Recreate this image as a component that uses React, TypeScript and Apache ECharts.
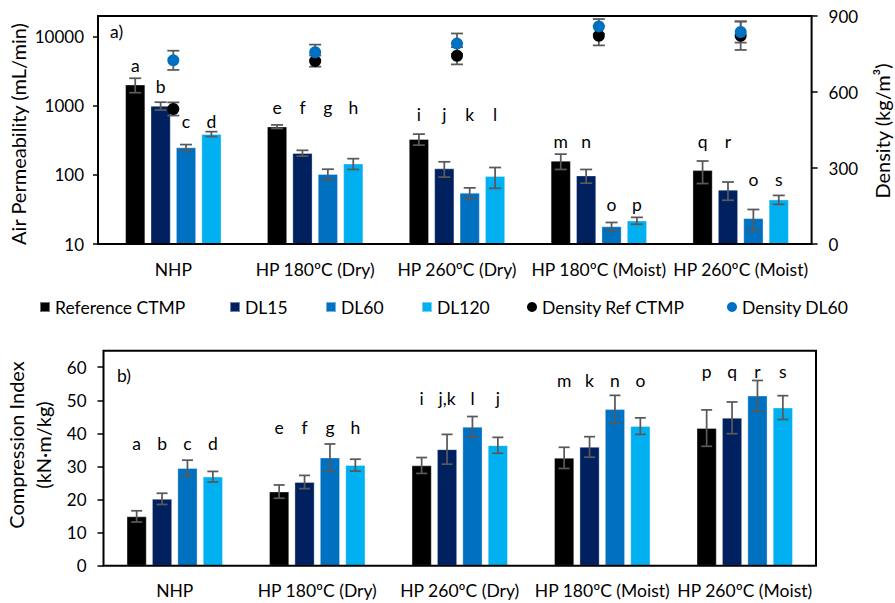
import React, { useEffect, useRef } from "react";
import * as echarts from "echarts";

// ---------- data ----------
const categories = ["NHP", "HP 180ºC (Dry)", "HP 260ºC (Dry)", "HP 180ºC (Moist)", "HP 260ºC (Moist)"];
const barNames = ["Reference CTMP", "DL15", "DL60", "DL120"];
const densityNames = ["Density Ref CTMP", "Density DL60"];

// panel a: air permeability (mL/min), mean and standard deviation
const permRef = [2030, 500, 330, 160, 117];
const permRefErr = [480, 30, 60, 40, 42];
const permDL15 = [1000, 207, 124, 98, 61];
const permDL15Err = [130, 20, 31, 22, 18];
const permDL60 = [250, 103, 55, 18, 23.6];
const permDL60Err = [25, 18, 10, 2.5, 8];
const permDL120 = [391, 146, 96, 21.8, 44];
const permDL120Err = [32, 26, 32, 2.5, 6.5];

// panel a: density (kg/m3)
const densRef = [533, 722, 743, 822, 822];
const densRefErr = [26, 22, 34, 38, 56];
const densDL60 = [725, 757, 791, 859, 837];
const densDL60Err = [38, 30, 40, 29, 42];

// panel a: significance letters and the level (axis value) they sit at
const lettersARef = ["a", "e", "i", "m", "q"];
const lettersADL15 = ["b", "f", "j", "n", "r"];
const lettersADL60 = ["c", "g", "k", "o", "o"];
const lettersADL120 = ["d", "h", "l", "p", "s"];
const letterLevelARef = [3870, 933, 745, 305, 305];
const letterLevelADL15 = [1920, 933, 745, 305, 305];
const letterLevelADL60 = [596, 933, 745, 36.8, 85];
const letterLevelADL120 = [596, 933, 745, 36.8, 85];

// panel b: compression index (kN·m/kg)
const ciRef = [14.9, 22.4, 30.3, 32.6, 41.6];
const ciRefErr = [1.7, 2.0, 2.4, 3.2, 5.5];
const ciDL15 = [20.2, 25.3, 35.2, 35.9, 44.7];
const ciDL15Err = [1.7, 2.0, 4.5, 3.1, 4.8];
const ciDL60 = [29.5, 32.7, 42.0, 47.3, 51.4];
const ciDL60Err = [2.4, 4.1, 3.1, 4.2, 4.6];
const ciDL120 = [26.9, 30.4, 36.4, 42.2, 47.8];
const ciDL120Err = [1.6, 1.8, 2.4, 2.5, 3.6];

const lettersBRef = ["a", "e", "i", "m", "p"];
const lettersBDL15 = ["b", "f", "j,k", "k", "q"];
const lettersBDL60 = ["c", "g", "l", "n", "r"];
const lettersBDL120 = ["d", "h", "j", "o", "s"];
const letterLevelB = [36.8, 41.9, 50.5, 56.0, 58.6];

const permTicks = [10, 100, 1000, 10000];

// ---------- styling ----------
const FONT = "Lato";
const FS = 17;
const FS_TXT = 17.5;
const FS_TITLE = 20;
const BAR_W = 20;
const BAR_GAP = 0.27;
const STEP = BAR_W * (1 + BAR_GAP);
const COLORS = ["#000000", "#002060", "#0070C0", "#00B0F0"];
const ERR_COLOR = "#595959";

function errSeries(xi: number, yi: number, vals: number[], errs: number[], slot: number, whisker: number, z: number) {
  return {
    type: "custom",
    xAxisIndex: xi,
    yAxisIndex: yi,
    silent: true,
    z,
    data: vals.map((v, i) => [i, v - errs[i], v + errs[i]]),
    renderItem: (params: any, api: any) => {
      const i = api.value(0);
      const lo = api.coord([i, api.value(1)]);
      const hi = api.coord([i, api.value(2)]);
      const x = lo[0] + slot * STEP;
      const h = whisker / 2;
      const st = { stroke: ERR_COLOR, lineWidth: 1.75 };
      return {
        type: "group",
        children: [
          { type: "line", shape: { x1: x, y1: hi[1], x2: x, y2: lo[1] }, style: st },
          { type: "line", shape: { x1: x - h, y1: hi[1], x2: x + h, y2: hi[1] }, style: st },
          { type: "line", shape: { x1: x - h, y1: lo[1], x2: x + h, y2: lo[1] }, style: st },
        ],
      };
    },
  };
}

function letterSeries(xi: number, yi: number, letters: string[], levels: number[], slot: number) {
  return {
    type: "custom",
    xAxisIndex: xi,
    yAxisIndex: yi,
    silent: true,
    z: 6,
    data: levels.map((lv, i) => [i, lv]),
    renderItem: (params: any, api: any) => {
      const p = api.coord([api.value(0), api.value(1)]);
      return {
        type: "text",
        x: p[0] + slot * STEP,
        y: p[1],
        style: {
          text: letters[params.dataIndex],
          textAlign: "center",
          textVerticalAlign: "middle",
          fill: "#000",
          font: `${FS_TXT}px ${FONT}`,
        },
      };
    },
  };
}

function barSeries(name: string, xi: number, yi: number, data: number[], color: string) {
  return {
    type: "bar",
    name,
    xAxisIndex: xi,
    yAxisIndex: yi,
    data,
    barWidth: BAR_W,
    barGap: `${BAR_GAP * 100}%`,
    clip: true,
    z: 2,
    itemStyle: { color, borderColor: "rgba(255,255,255,0.45)", borderWidth: 0.75 },
  };
}

const GA = { left: 102.4, top: 16, width: 709.2, height: 228 };
const GB = { left: 103.5, top: 350.7, width: 712.5, height: 215 };

const tickStyle = { color: "#000", width: 1.5 };
const labelStyle = { fontSize: FS, fontFamily: FONT, color: "#000" };

export default function App() {
  const ref = useRef<HTMLDivElement>(null);
  useEffect(() => {
    document.body.style.margin = "0";
    if (!ref.current) return;
    const chart = echarts.init(ref.current, undefined, { renderer: "svg" });

    const legendCommon = {
      itemWidth: 10,
      itemHeight: 10,
      padding: 0,
      top: 298,
      selectedMode: false,
      textStyle: { fontSize: FS_TXT, fontFamily: FONT, color: "#000" },
    };
    const legendLefts = [39, 229, 325, 421, 527, 727];
    const legendNames = [...barNames, ...densityNames];
    const legendIcons = ["rect", "rect", "rect", "rect", "circle", "circle"];

    const option: any = {
      animation: false,
      backgroundColor: "#fff",
      textStyle: { fontFamily: FONT },
      grid: [
        { ...GA, containLabel: false },
        { ...GB, containLabel: false },
      ],
      legend: legendNames.map((n, i) => ({
        ...legendCommon,
        left: legendLefts[i],
        data: [{ name: n, icon: legendIcons[i] }],
      })),
      xAxis: [
        {
          type: "category",
          gridIndex: 0,
          data: categories,
          axisLine: { show: false },
          axisTick: { show: false },
          axisLabel: { ...labelStyle, fontSize: FS_TXT, margin: 16, interval: 0 },
        },
        {
          type: "category",
          gridIndex: 1,
          data: categories,
          axisLine: { show: false },
          axisTick: { show: false },
          axisLabel: { ...labelStyle, fontSize: FS_TXT, margin: 16, interval: 0 },
        },
      ],
      yAxis: [
        {
          type: "log",
          logBase: 10,
          gridIndex: 0,
          position: "left",
          offset: 4.4,
          min: permTicks[0],
          max: 20000,
          axisLine: { show: false },
          axisTick: { show: true, length: 5, lineStyle: tickStyle },
          axisLabel: {
            ...labelStyle,
            margin: 14,
            showMaxLabel: false,
            formatter: (v: number) => (permTicks.includes(Math.round(v)) ? String(Math.round(v)) : ""),
          },
          splitLine: { show: false },
        },
        {
          type: "value",
          gridIndex: 0,
          position: "right",
          min: 0,
          max: 900,
          interval: 300,
          axisLine: { show: false },
          axisTick: { show: true, length: 6, lineStyle: tickStyle },
          axisLabel: { ...labelStyle, margin: 17 },
          splitLine: { show: false },
        },
        {
          type: "value",
          gridIndex: 1,
          position: "left",
          min: 0,
          max: 65,
          interval: 10,
          axisLine: { show: false },
          axisTick: { show: true, length: 6, lineStyle: tickStyle },
          axisLabel: { ...labelStyle, margin: 17, showMaxLabel: false },
          splitLine: { show: false },
        },
      ],
      series: [
        // panel a bars
        barSeries(barNames[0], 0, 0, permRef, COLORS[0]),
        barSeries(barNames[1], 0, 0, permDL15, COLORS[1]),
        barSeries(barNames[2], 0, 0, permDL60, COLORS[2]),
        barSeries(barNames[3], 0, 0, permDL120, COLORS[3]),
        errSeries(0, 0, permRef, permRefErr, -1.5, 12, 5),
        errSeries(0, 0, permDL15, permDL15Err, -0.5, 12, 5),
        errSeries(0, 0, permDL60, permDL60Err, 0.5, 12, 5),
        errSeries(0, 0, permDL120, permDL120Err, 1.5, 12, 5),
        letterSeries(0, 0, lettersARef, letterLevelARef, -1.5),
        letterSeries(0, 0, lettersADL15, letterLevelADL15, -0.5),
        letterSeries(0, 0, lettersADL60, letterLevelADL60, 0.5),
        letterSeries(0, 0, lettersADL120, letterLevelADL120, 1.5),
        // density
        errSeries(0, 1, densRef, densRefErr, 0, 12, 7),
        errSeries(0, 1, densDL60, densDL60Err, 0, 12, 7),
        {
          type: "scatter",
          name: densityNames[0],
          xAxisIndex: 0,
          yAxisIndex: 1,
          data: densRef,
          symbol: "circle",
          symbolSize: 12,
          z: 8,
          itemStyle: { color: "#000", opacity: 1 },
        },
        {
          type: "scatter",
          name: densityNames[1],
          xAxisIndex: 0,
          yAxisIndex: 1,
          data: densDL60,
          symbol: "circle",
          symbolSize: 12,
          z: 9,
          itemStyle: { color: "#0070C0", opacity: 1 },
        },
        // panel b bars
        barSeries(barNames[0], 1, 2, ciRef, COLORS[0]),
        barSeries(barNames[1], 1, 2, ciDL15, COLORS[1]),
        barSeries(barNames[2], 1, 2, ciDL60, COLORS[2]),
        barSeries(barNames[3], 1, 2, ciDL120, COLORS[3]),
        errSeries(1, 2, ciRef, ciRefErr, -1.5, 11, 5),
        errSeries(1, 2, ciDL15, ciDL15Err, -0.5, 11, 5),
        errSeries(1, 2, ciDL60, ciDL60Err, 0.5, 11, 5),
        errSeries(1, 2, ciDL120, ciDL120Err, 1.5, 11, 5),
        letterSeries(1, 2, lettersBRef, letterLevelB, -1.5),
        letterSeries(1, 2, lettersBDL15, letterLevelB, -0.5),
        letterSeries(1, 2, lettersBDL60, letterLevelB, 0.5),
        letterSeries(1, 2, lettersBDL120, letterLevelB, 1.5),
      ],
      graphic: [
        {
          type: "rect",
          z: 50,
          silent: true,
          shape: { x: 98, y: GA.top, width: GA.left + GA.width - 98, height: GA.height },
          style: { fill: "none", stroke: "#000", lineWidth: 2 },
        },
        {
          type: "rect",
          z: 50,
          silent: true,
          shape: { x: GB.left, y: GB.top, width: GB.width, height: GB.height },
          style: { fill: "none", stroke: "#000", lineWidth: 2 },
        },
        {
          type: "text",
          x: 18,
          y: 134,
          rotation: Math.PI / 2,
          style: { text: "Air Permeability (mL/min)", textAlign: "center", textVerticalAlign: "middle", fill: "#000", font: `${FS_TITLE}px ${FONT}` },
        },
        {
          type: "text",
          x: 882,
          y: 131,
          rotation: Math.PI / 2,
          style: { text: "Density (kg/m³)", textAlign: "center", textVerticalAlign: "middle", fill: "#000", font: `${FS_TITLE}px ${FONT}` },
        },
        {
          type: "text",
          x: 16,
          y: 445,
          rotation: Math.PI / 2,
          style: { text: "Compression Index", textAlign: "center", textVerticalAlign: "middle", fill: "#000", font: `${FS_TITLE}px ${FONT}` },
        },
        {
          type: "text",
          x: 42.5,
          y: 445,
          rotation: Math.PI / 2,
          style: { text: "(kN·m/kg)", textAlign: "center", textVerticalAlign: "middle", fill: "#000", font: `${FS_TITLE}px ${FONT}` },
        },
        {
          type: "text",
          x: 110,
          y: 31,
          style: { text: "a)", textAlign: "left", textVerticalAlign: "middle", fill: "#000", font: `${FS_TXT}px ${FONT}` },
        },
        {
          type: "text",
          x: 117,
          y: 375,
          style: { text: "b)", textAlign: "left", textVerticalAlign: "middle", fill: "#000", font: `${FS_TXT}px ${FONT}` },
        },
      ],
    };
    chart.setOption(option);
    return () => chart.dispose();
  }, []);
  return <div ref={ref} style={{ position: "absolute", left: 0, top: 0, width: 895, height: 603 }} />;
}
